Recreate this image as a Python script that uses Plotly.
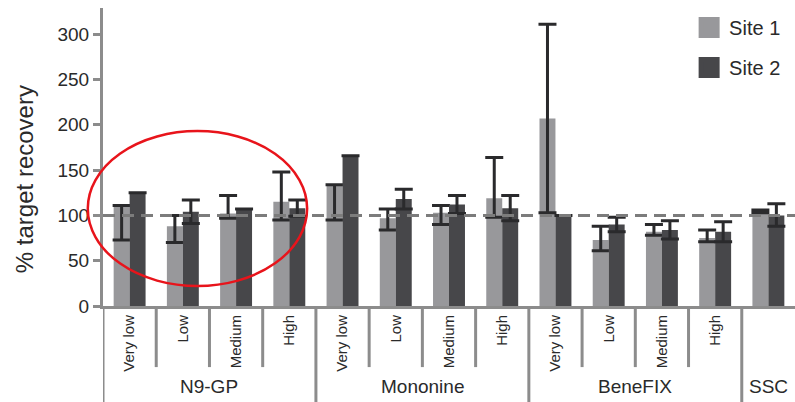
import plotly.graph_objects as go

# Products and concentration levels along the x axis
products = ["N9-GP", "Mononine", "BeneFIX", "SSC"]
levels_per_product = [["Very low", "Low", "Medium", "High"],
                      ["Very low", "Low", "Medium", "High"],
                      ["Very low", "Low", "Medium", "High"],
                      [""]]

# % target recovery per site, with upper / lower error extents
site1 = [111, 88, 102, 115, 134, 97, 103, 119, 207, 73, 82, 75, 106]
site1_err_up = [0, 12, 20, 33, 0, 10, 8, 45, 104, 15, 8, 9, 0]
site1_err_down = [38, 18, 5, 20, 39, 13, 13, 21, 104, 12, 4, 4, 3]

site2 = [125, 104, 107, 108, 166, 118, 112, 108, 100, 90, 84, 82, 100]
site2_err_up = [0, 13, 0, 9, 0, 11, 10, 14, 0, 8, 10, 11, 13]
site2_err_down = [0, 13, 0, 9, 0, 11, 10, 14, 0, 8, 10, 11, 12]

target_line = 100
y_ticks = [0, 50, 100, 150, 200, 250, 300]

c1 = "#98989b"
c2 = "#47474a"
err_c = "#2a2a2c"
axis_c = "#8c8c8c"
txt_c = "#2a2a2a"
font_family = "Liberation Sans, Arial, sans-serif"

tick_text = [lv for lvls in levels_per_product for lv in lvls]
x = list(range(len(tick_text)))

fig = go.Figure()
fig.add_trace(go.Bar(
    x=x, y=site1, name="Site 1", marker=dict(color=c1, line=dict(width=0)),
    showlegend=False,
    error_y=dict(type="data", symmetric=False, array=site1_err_up,
                 arrayminus=site1_err_down, color=err_c, thickness=3, width=9),
))
fig.add_trace(go.Bar(
    x=x, y=site2, name="Site 2", marker=dict(color=c2, line=dict(width=0)),
    showlegend=False,
    error_y=dict(type="data", symmetric=False, array=site2_err_up,
                 arrayminus=site2_err_down, color=err_c, thickness=3, width=9),
))

# Large square legend keys
for name, col in [("Site 1", c1), ("Site 2", c2)]:
    fig.add_trace(go.Scatter(
        x=[None], y=[None], mode="markers", name=name, legendgroup=name,
        marker=dict(symbol="square", size=16, color=col, line=dict(color=col, width=5)),
    ))

# Reference line at 100 %
fig.add_shape(type="line", xref="paper", x0=0, x1=1, yref="y", y0=target_line, y1=target_line,
              line=dict(color="#7c7c7c", width=3, dash="12px,7px"), layer="above")

# Red ellipse highlighting the N9-GP group
fig.add_shape(type="circle", xref="paper", yref="paper",
              x0=-0.022, x1=0.295, y0=0.067, y1=0.587,
              line=dict(color="#e8141b", width=2.5), layer="above")

# Category separators below the axis, longer ones between products
y_short = -0.205
y_long = -0.33
bounds = []
start = 0
for lvls in levels_per_product:
    bounds.append(start - 0.5)
    start += len(lvls)
for i in range(len(x) - 1):
    b = i + 0.5
    if b in bounds:
        continue
    fig.add_shape(type="line", xref="x", x0=b, x1=b, yref="paper", y0=0, y1=y_short,
                  line=dict(color=axis_c, width=3))
for b in bounds:
    fig.add_shape(type="line", xref="x", x0=b, x1=b, yref="paper", y0=0, y1=y_long,
                  line=dict(color=axis_c, width=3))

# Product names under each group
start = 0
for name, lvls in zip(products, levels_per_product):
    centre = start + (len(lvls) - 1) / 2
    fig.add_annotation(x=centre, xref="x", y=-0.27, yref="paper", text=name,
                       showarrow=False, yanchor="middle",
                       font=dict(size=19, color=txt_c, family=font_family))
    start += len(lvls)

# Y axis title
fig.add_annotation(x=-0.114, xref="paper", y=0.426, yref="paper", text="% target recovery",
                   textangle=-90, showarrow=False, xanchor="center", yanchor="middle",
                   font=dict(size=24, color=txt_c, family=font_family))

fig.update_layout(
    width=795, height=402,
    margin=dict(l=103, r=0, t=8, b=96),
    paper_bgcolor="white", plot_bgcolor="white",
    barmode="group", bargap=0.4, bargroupgap=0,
    font=dict(family=font_family, color=txt_c),
    legend=dict(x=0.847, y=1.0, xanchor="left", yanchor="top",
                font=dict(size=20, color=txt_c, family=font_family),
                tracegroupgap=11, bgcolor="rgba(0,0,0,0)"),
    xaxis=dict(range=[-0.5, len(x) - 0.5], tickmode="array", tickvals=x, ticktext=tick_text,
               tickangle=-90, ticks="", showgrid=False, zeroline=False,
               showline=True, linecolor=axis_c, linewidth=3,
               tickfont=dict(size=15, color=txt_c, family=font_family)),
    yaxis=dict(range=[0, 329], tickvals=y_ticks, ticks="outside", ticklen=7, tickwidth=3,
               tickcolor=axis_c, showgrid=False, zeroline=False,
               showline=True, linecolor=axis_c, linewidth=3,
               tickfont=dict(size=19, color=txt_c, family=font_family)),
)

fig.write_html("out.html")
